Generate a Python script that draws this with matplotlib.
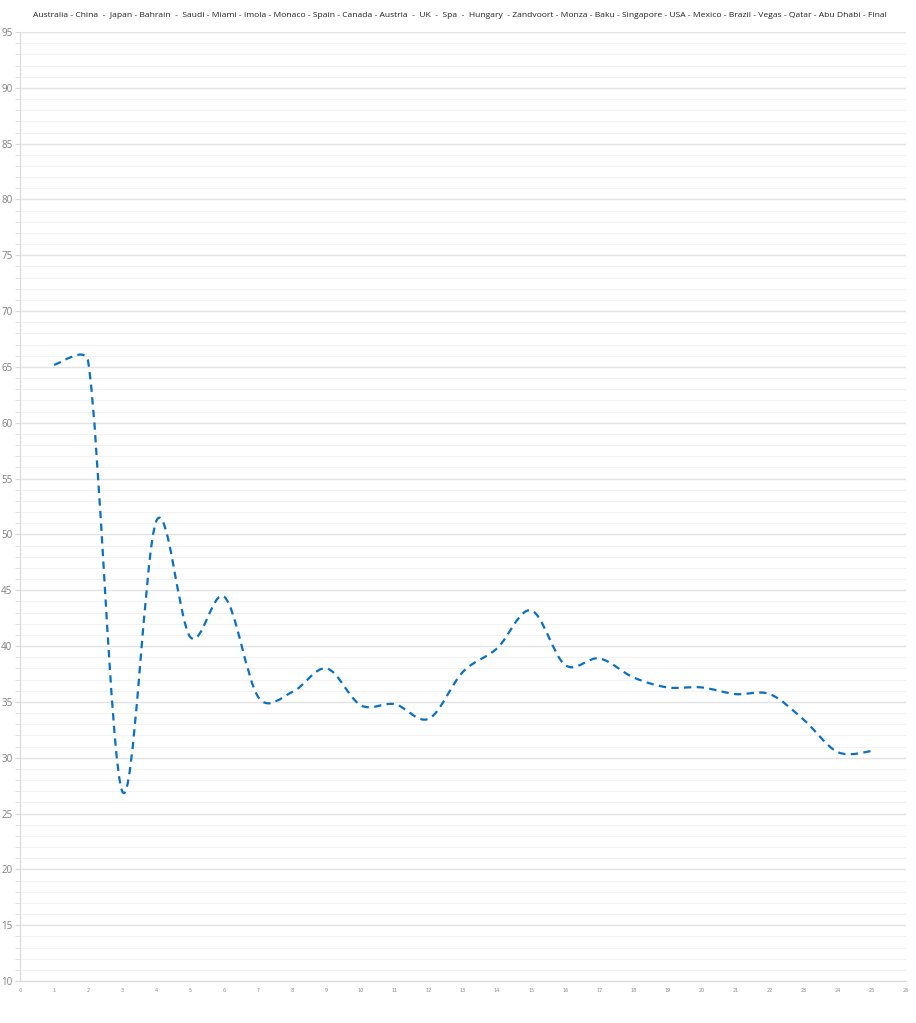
import matplotlib
matplotlib.use("Agg")
import matplotlib.pyplot as plt
from matplotlib.path import Path
from matplotlib.patches import PathPatch
from matplotlib.ticker import MultipleLocator
import numpy as np

title = ("Australia - China  -  Japan - Bahrain  -  Saudi - Miami - Imola - Monaco - Spain - Canada - Austria  -  UK  -  Spa  -  "
         "Hungary  - Zandvoort - Monza - Baku - Singapore - USA - Mexico - Brazil - Vegas - Qatar - Abu Dhabi - Final")

rounds = [1, 2, 3, 4, 5, 6, 7, 8, 9, 10, 11, 12, 13, 14, 15, 16, 17, 18, 19, 20, 21, 22, 23, 24, 25]
values = [65.2, 65.5, 27.0, 51.2, 40.8, 44.4, 35.4, 35.9, 38.0, 34.7, 34.8, 33.5, 37.7, 39.8, 43.2,
          38.3, 38.9, 37.2, 36.3, 36.3, 35.7, 35.7, 33.4, 30.5, 30.6]

fig = plt.figure(figsize=(9.16, 10.23), dpi=100)
ax = fig.add_axes([0.0218, 0.041, 0.9673, 0.9277])
ax.set_xlim(0, 26)
ax.set_ylim(10, 95)

# smooth line through the data points (Bezier segments, Excel-like smoothing,
# Catmull-Rom tangents in display space, clamped by segment length)
data = np.column_stack([rounds, values]).astype(float)
pts = ax.transData.transform(data)
n = len(pts)
tang = []
for i in range(n):
    a = pts[i - 1] if i > 0 else pts[i]
    b = pts[i + 1] if i < n - 1 else pts[i]
    tang.append((b - a) / 6.0)
m = 0.5

def clamp(v, L):
    l = np.hypot(*v)
    return v * (L * m / l) if l > L * m else v

verts = [tuple(data[0])]
codes = [Path.MOVETO]
inv = ax.transData.inverted()
for i in range(n - 1):
    L = np.hypot(*(pts[i + 1] - pts[i]))
    c1 = pts[i] + clamp(tang[i], L)
    c2 = pts[i + 1] - clamp(tang[i + 1], L)
    c1d, c2d = inv.transform(c1), inv.transform(c2)
    verts += [tuple(c1d), tuple(c2d), tuple(data[i + 1])]
    codes += [Path.CURVE4, Path.CURVE4, Path.CURVE4]
patch = PathPatch(Path(verts, codes), facecolor="none", edgecolor="#0a70c2",
                  lw=1.6, linestyle=(0, (3.3, 2.4)), capstyle="butt", zorder=3)
ax.add_patch(patch)

ax.xaxis.set_major_locator(MultipleLocator(1))
ax.yaxis.set_major_locator(MultipleLocator(5))
ax.yaxis.set_minor_locator(MultipleLocator(1))
ax.grid(which="major", axis="y", color="#e3e3e3", lw=1.0)
ax.grid(which="minor", axis="y", color="#f2f2f2", lw=0.8)
ax.set_axisbelow(True)

for s in ["top", "right"]:
    ax.spines[s].set_visible(False)
ax.spines["left"].set_color("#d9d9d9")
ax.spines["bottom"].set_color("#d9d9d9")
ax.spines["left"].set_linewidth(0.8)
ax.spines["bottom"].set_linewidth(0.8)

ax.tick_params(axis="x", length=0, labelsize=3.5, labelcolor="#8a8a8a", pad=5)
ax.tick_params(axis="y", which="major", length=3.5, color="#d9d9d9", labelsize=7, labelcolor="#808080", pad=2)
ax.tick_params(axis="y", which="minor", length=3.5, color="#d9d9d9")
for lab in ax.get_yticklabels():
    lab.set_family("Open Sans")

fig.text(0.502, 0.985, title, ha="center", va="center", fontsize=6.1, family="Open Sans", color="#222222")

fig.savefig("out.png", dpi=100, facecolor="white")
